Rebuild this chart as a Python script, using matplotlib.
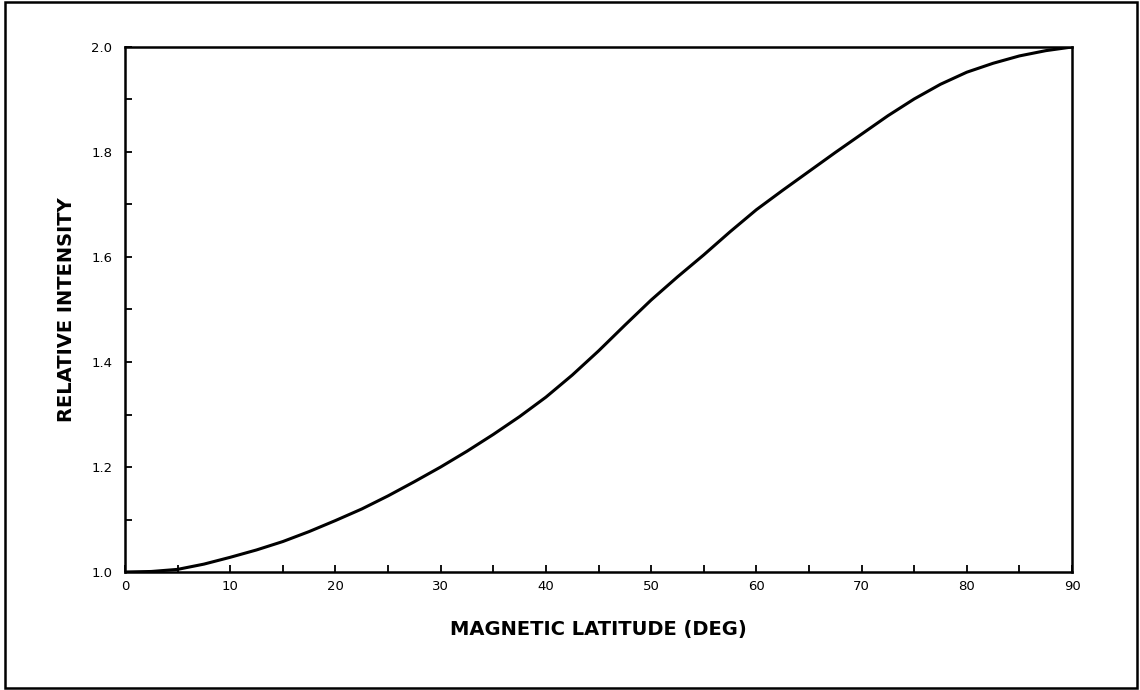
import matplotlib
matplotlib.use('Agg')
import matplotlib.pyplot as plt
from matplotlib.patches import Rectangle
from matplotlib.ticker import MultipleLocator

# values (every 2.5 degrees)
latitude = [0, 2.5, 5, 7.5, 10, 12.5, 15, 17.5, 20, 22.5, 25, 27.5, 30, 32.5, 35,
            37.5, 40, 42.5, 45, 47.5, 50, 52.5, 55, 57.5, 60, 62.5, 65, 67.5, 70,
            72.5, 75, 77.5, 80, 82.5, 85, 87.5, 90]
intensity = [1.0, 1.001, 1.005, 1.015, 1.028, 1.042, 1.058, 1.077, 1.098, 1.12,
             1.145, 1.172, 1.20, 1.23, 1.262, 1.296, 1.333, 1.375, 1.421, 1.47,
             1.518, 1.562, 1.604, 1.648, 1.69, 1.727, 1.763, 1.799, 1.834, 1.869,
             1.901, 1.929, 1.952, 1.969, 1.983, 1.993, 2.0]

x_ticks = [0, 10, 20, 30, 40, 50, 60, 70, 80, 90]
y_ticks = [1.0, 1.2, 1.4, 1.6, 1.8, 2.0]

fig = plt.figure(figsize=(11.4, 6.9), dpi=100)
ax = fig.add_axes([0.1096, 0.171, 0.8308, 0.7609])

ax.plot(latitude, intensity, color='black', linewidth=2.2, solid_capstyle='round')

ax.set_xlim(0, 90)
ax.set_ylim(1.0, 2.0)

ax.set_xticks(x_ticks)
ax.set_xticklabels([str(t) for t in x_ticks])
ax.set_yticks(y_ticks)
ax.set_yticklabels([f'{t:.1f}' for t in y_ticks])
ax.xaxis.set_minor_locator(MultipleLocator(5))
ax.yaxis.set_minor_locator(MultipleLocator(0.1))

ax.tick_params(which='both', direction='in', length=5, width=1.3,
               top=False, right=False, labelsize=9.5, pad=6)
ax.tick_params(axis='y', pad=9)

for side in ax.spines.values():
    side.set_linewidth(1.8)

ax.set_xlabel('MAGNETIC LATITUDE (DEG)', fontsize=14, fontweight='bold', labelpad=19)
ax.set_ylabel('RELATIVE INTENSITY', fontsize=14, fontweight='bold', labelpad=11)

# outer frame of the scanned figure
fig.patches.append(Rectangle((0.004, 0.003), 0.993, 0.994, transform=fig.transFigure,
                             fill=False, edgecolor='black', linewidth=1.8))

fig.savefig('out.png', dpi=100)
